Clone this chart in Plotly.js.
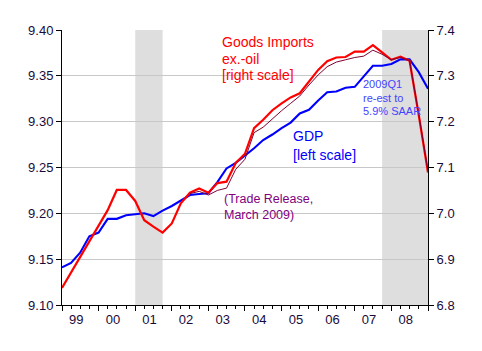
<!DOCTYPE html>
<html>
<head>
<meta charset="utf-8">
<script src="https://cdn.plot.ly/plotly-3.0.1.min.js"></script>
<style>
html,body{margin:0;padding:0;background:#fff;}
#chart{width:482px;height:351px;}
</style>
</head>
<body>
<div id="chart"></div>
<script>
// Quarters 1999Q1 .. 2009Q1
var quarters = [
 "1999-01-01","1999-04-01","1999-07-01","1999-10-01",
 "2000-01-01","2000-04-01","2000-07-01","2000-10-01",
 "2001-01-01","2001-04-01","2001-07-01","2001-10-01",
 "2002-01-01","2002-04-01","2002-07-01","2002-10-01",
 "2003-01-01","2003-04-01","2003-07-01","2003-10-01",
 "2004-01-01","2004-04-01","2004-07-01","2004-10-01",
 "2005-01-01","2005-04-01","2005-07-01","2005-10-01",
 "2006-01-01","2006-04-01","2006-07-01","2006-10-01",
 "2007-01-01","2007-04-01","2007-07-01","2007-10-01",
 "2008-01-01","2008-04-01","2008-07-01","2008-10-01",
 "2009-01-01"
];

// log real GDP (left scale)
var gdp = [9.141, 9.146, 9.157, 9.175, 9.179, 9.194, 9.194, 9.198, 9.199, 9.200,
           9.197, 9.203, 9.208, 9.214, 9.220, 9.221, 9.222, 9.234, 9.249, 9.255,
           9.263, 9.271, 9.280, 9.286, 9.293, 9.299, 9.309, 9.313, 9.323, 9.332,
           9.333, 9.337, 9.338, 9.350, 9.361, 9.361, 9.363, 9.368, 9.368, 9.354,
           9.336];

// log goods imports ex-oil, 2009Q1 re-estimate (right scale)
var imports = [6.837, 6.871, 6.905, 6.940, 6.972, 7.007, 7.051, 7.051, 7.027, 6.985,
               6.971, 6.958, 6.978, 7.022, 7.045, 7.054, 7.045, 7.066, 7.069, 7.110,
               7.130, 7.186, 7.204, 7.225, 7.240, 7.253, 7.262, 7.287, 7.313, 7.332,
               7.340, 7.341, 7.353, 7.353, 7.367, 7.351, 7.335, 7.342, 7.333, 7.214,
               7.089];

// log goods imports ex-oil, Trade Release March 2009 (right scale)
var importsTrade = [6.837, 6.871, 6.905, 6.940, 6.972, 7.007, 7.051, 7.051, 7.027, 6.985,
                    6.971, 6.958, 6.978, 7.022, 7.043, 7.048, 7.040, 7.050, 7.055, 7.096,
                    7.118, 7.176, 7.188, 7.207, 7.224, 7.240, 7.256, 7.280, 7.302, 7.320,
                    7.330, 7.335, 7.340, 7.343, 7.356, 7.347, 7.335, 7.340, 7.333, 7.216,
                    7.092];

var recessions = [["2001-01-01","2001-10-01"],["2007-10-01","2009-01-01"]];

var FONT = "Arial, 'Liberation Sans', sans-serif";
var TICKCOL = "#1a0a3a";

var traces = [
  {x: quarters, y: gdp, type: "scatter", mode: "lines", yaxis: "y",
   line: {color: "#0000FF", width: 2.1}, hoverinfo: "skip"},
  {x: quarters, y: imports, type: "scatter", mode: "lines", yaxis: "y2",
   line: {color: "#FF0000", width: 2.2}, hoverinfo: "skip"},
  {x: quarters.slice(14), y: importsTrade.slice(14), type: "scatter", mode: "lines", yaxis: "y2",
   line: {color: "#800030", width: 1}, hoverinfo: "skip"}
];

var shapes = recessions.map(function(r){
  return {type: "rect", xref: "x", yref: "paper", x0: r[0], x1: r[1], y0: 0, y1: 1,
          fillcolor: "#DEDEDE", line: {width: 0}, layer: "below"};
});

// plot area in pixels: left 62, right 428, top 30, bottom 305
function px(x){ return (x - 62) / 366; }
function py(y){ return (305 - y) / 275; }
function ann(text, x, y, color, size){
  return {text: text, xref: "paper", yref: "paper", x: px(x), y: py(y),
          xanchor: "left", yanchor: "middle", showarrow: false, align: "left",
          font: {family: FONT, size: size, color: color}};
}

var annotations = [
  ann("Goods Imports", 220, 42.5, "#FF0000", 14),
  ann("ex.-oil", 220, 59, "#FF0000", 14),
  ann("[right scale]", 220, 75.5, "#FF0000", 14),
  ann("GDP", 291, 136, "#0000FF", 14),
  ann("[left scale]", 291, 154.5, "#0000FF", 14),
  ann("2009Q1", 361, 83.7, "#4444FF", 11),
  ann("re-est to", 361, 97.7, "#4444FF", 11),
  ann("5.9% SAAR", 361, 111.3, "#4444FF", 11),
  ann("(Trade Release,", 222, 198.7, "#800080", 12.5),
  ann("March 2009)", 222, 215.3, "#800080", 12.5)
];

var layout = {
  width: 482, height: 351,
  margin: {l: 62, r: 54, t: 30, b: 46, pad: 0},
  paper_bgcolor: "#FFFFFF", plot_bgcolor: "#FFFFFF",
  showlegend: false,
  font: {family: FONT, size: 13, color: TICKCOL},
  xaxis: {
    type: "date", range: ["1999-01-01", "2009-01-01"],
    tick0: "1999-01-01", dtick: "M12", tickformat: "%y", ticklabelmode: "period",
    ticklabelshift: -4, ticklabelstandoff: -3,
    ticks: "outside", ticklen: 5, tickcolor: "#000", tickwidth: 1,
    showline: true, linecolor: "#000", linewidth: 1, mirror: false,
    showgrid: false, zeroline: false,
    minor: {dtick: "M3", tick0: "1999-01-01", ticks: "outside", ticklen: 3, tickcolor: "#000", showgrid: false},
    tickfont: {family: FONT, size: 13, color: TICKCOL}
  },
  yaxis: {
    range: [9.10, 9.40], tick0: 9.10, dtick: 0.05, tickformat: ".2f",
    ticks: "outside", ticklen: 5, tickcolor: "#000",
    showline: true, linecolor: "#000", linewidth: 1,
    showgrid: true, gridcolor: "#C8C8C8", gridwidth: 1, zeroline: false,
    tickfont: {family: FONT, size: 13, color: TICKCOL}
  },
  yaxis2: {
    range: [6.8, 7.4], tick0: 6.8, dtick: 0.1, tickformat: ".1f",
    overlaying: "y", side: "right",
    ticks: "outside", ticklen: 5, tickcolor: "#000",
    showline: true, linecolor: "#000", linewidth: 1,
    showgrid: false, zeroline: false,
    tickfont: {family: FONT, size: 13, color: TICKCOL}
  },
  shapes: shapes,
  annotations: annotations
};

Plotly.newPlot("chart", traces, layout, {staticPlot: true, displayModeBar: false});
</script>
</body>
</html>
